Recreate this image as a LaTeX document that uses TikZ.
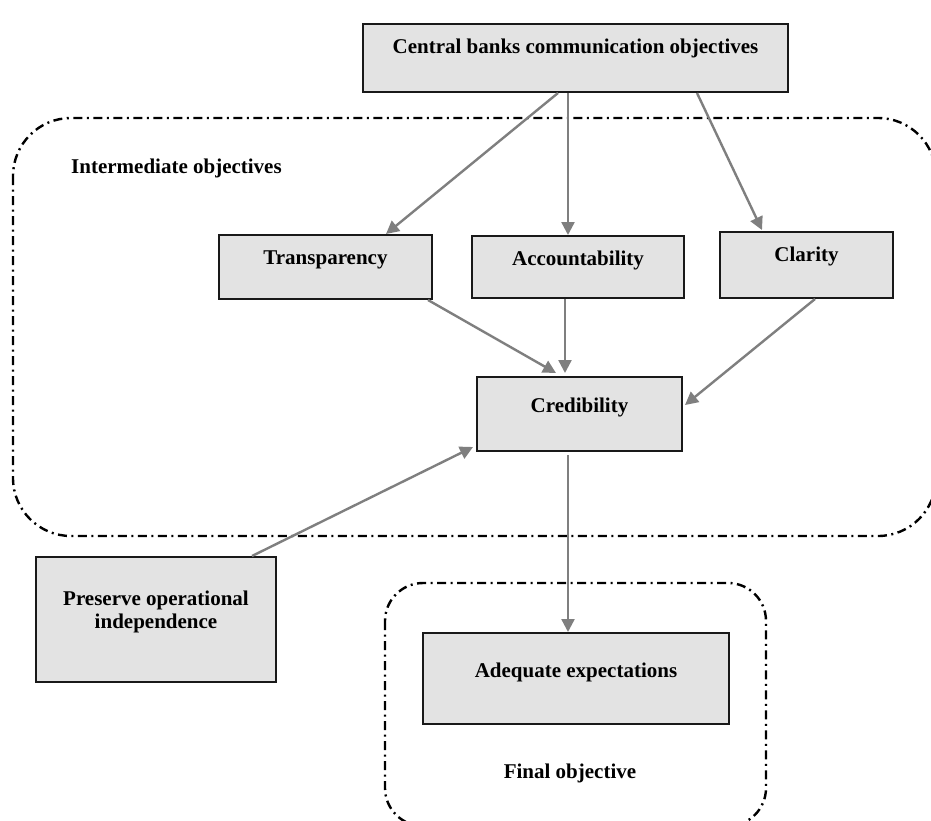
\documentclass[tikz,border=0pt]{standalone}
\usepackage{fontspec}
\setmainfont{Liberation Serif}
\usetikzlibrary{arrows.meta}
\definecolor{boxgray}{HTML}{E3E3E3}
\definecolor{arrowgray}{HTML}{7F7F7F}

\begin{document}
\begin{tikzpicture}[x=1pt,y=-1pt,
  objbox/.style={draw=black!90, line width=2pt, fill=boxgray, inner sep=0pt, align=center, font=\fontsize{21pt}{23pt}\selectfont\bfseries},
  group/.style={draw=black, line width=2.4pt, dash pattern=on 9pt off 4.5pt on 2pt off 4.5pt},
  grouplabel/.style={inner sep=0pt, font=\fontsize{21pt}{23pt}\selectfont\bfseries},
  link/.style={draw=arrowgray, line width=2.4pt, -{Triangle[length=13pt,width=13pt]}}]
\useasboundingbox (0,0) rectangle (931,820);
% dash-dot groups
\draw[group, rounded corners=58pt] (13,118) rectangle (936,536);
\draw[group, rounded corners=38pt] (385,583) rectangle (766,826);
\node[grouplabel, anchor=base west] (interlabel) at (71,173) {Intermediate objectives};
\node[grouplabel, anchor=base] (finallabel) at (570,778) {Final objective};
% boxes
\node[objbox, minimum width=425pt, text height=29pt, text depth=39pt] (central) at (575.5,58) {Central banks communication objectives};
\node[objbox, minimum width=213pt, text height=29pt, text depth=35pt] (transp) at (325.5,267) {Transparency};
\node[objbox, minimum width=212pt, text height=29pt, text depth=33pt] (account) at (578,267) {Accountability};
\node[objbox, minimum width=173pt, text height=29pt, text depth=37pt] (clarity) at (806.5,265) {Clarity};
\node[objbox, minimum width=205pt, text height=35pt, text depth=39pt] (cred) at (579.5,414) {Credibility};
\node[objbox, minimum width=240pt, text height=71pt, text depth=54pt] (preserve) at (156,619.5) {Preserve operational\\independence};
\node[objbox, minimum width=306pt, text height=44pt, text depth=47pt] (adequate) at (576,678.5) {Adequate expectations};
% arrows
\draw[link] ([xshift=-17.5pt]central.south) -- ([xshift=60.5pt]transp.north);
\draw[link] ([xshift=-7.5pt]central.south) -- ([xshift=-10pt]account.north);
\draw[link] ([xshift=121.5pt]central.south) -- ([xshift=-44.5pt,yshift=1pt]clarity.north);
\draw[link] ([xshift=-5pt]transp.south east) -- ([xshift=-23.5pt,yshift=3pt]cred.north);
\draw[link] ([xshift=-13pt]account.south) -- ([xshift=-14.5pt,yshift=3pt]cred.north);
\draw[link] ([xshift=8.5pt]clarity.south) -- ([xshift=2pt,yshift=9pt]cred.east);
\draw[link] ([xshift=96pt]preserve.north) -- ([xshift=-3pt,yshift=5pt]cred.south west);
\draw[link] ([xshift=-11.5pt,yshift=-3pt]cred.south) -- ([xshift=-8pt]adequate.north);
\end{tikzpicture}
\end{document}
